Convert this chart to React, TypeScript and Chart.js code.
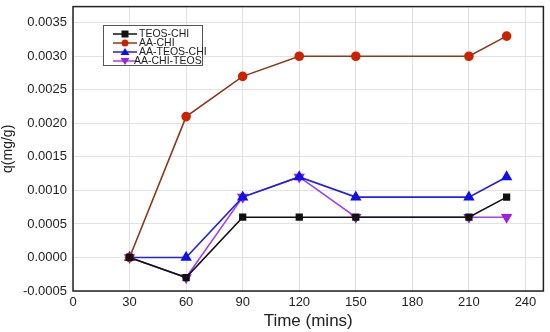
import React, { useEffect, useRef } from "react";
import { Chart, registerables } from "chart.js";

Chart.register(...registerables);

const times = [30, 60, 90, 120, 150, 210, 230];
const teosChi = [0, -0.0003, 0.0006, 0.0006, 0.0006, 0.0006, 0.0009];
const aaChi = [0, 0.0021, 0.0027, 0.003, 0.003, 0.003, 0.0033];
const aaTeosChi = [0, 0, 0.0009, 0.0012, 0.0009, 0.0009, 0.0012];
const aaChiTeos = [0, -0.0003, 0.0009, 0.0012, 0.0006, 0.0006, 0.0006];

const xTicks = [0, 30, 60, 90, 120, 150, 180, 210, 240];
const yTicks = [-0.0005, 0, 0.0005, 0.001, 0.0015, 0.002, 0.0025, 0.003, 0.0035];

const seriesNames = ["TEOS-CHI", "AA-CHI", "AA-TEOS-CHI", "AA-CHI-TEOS"];
const FONT = "'Liberation Sans', Arial, Helvetica, sans-serif";

const toPts = (vals: number[]) => vals.map((v, i) => ({ x: times[i], y: v }));

export default function App() {
  const ref = useRef<HTMLCanvasElement | null>(null);
  useEffect(() => {
    document.body.style.margin = "0";
    const canvas = ref.current!;
    const styles = [
      { line: "#111111", fill: "#111111", pt: "rect", rot: 0, r: 4 },
      { line: "#8b3a1a", fill: "#cc2200", pt: "circle", rot: 0, r: 4 },
      { line: "#2020e8", fill: "#1010ee", pt: "triangle", rot: 0, r: 5 },
      { line: "#a040f0", fill: "#a020e0", pt: "triangle", rot: 180, r: 5 },
    ];
    const data = [teosChi, aaChi, aaTeosChi, aaChiTeos];

    const boxPlugin = {
      id: "box",
      afterDraw(chart: any) {
        const { ctx, chartArea: a } = chart;
        ctx.save();
        ctx.strokeStyle = "#222";
        ctx.lineWidth = 1.5;
        ctx.strokeRect(a.left, a.top, a.right - a.left, a.bottom - a.top);
        // legend
        const lx = 103, ly = 25, lw = 99, lh = 40;
        ctx.fillStyle = "#fff";
        ctx.fillRect(lx, ly, lw, lh);
        ctx.strokeStyle = "#555";
        ctx.lineWidth = 1;
        ctx.strokeRect(lx + 0.5, ly + 0.5, lw, lh);
        ctx.font = `10.5px ${FONT}`;
        ctx.textBaseline = "middle";
        seriesNames.forEach((name, i) => {
          const y = ly + 9 + i * 9;
          const s = styles[i];
          ctx.strokeStyle = s.line;
          ctx.lineWidth = 1.5;
          ctx.beginPath();
          ctx.moveTo(113, y);
          ctx.lineTo(137, y);
          ctx.stroke();
          ctx.fillStyle = s.fill;
          const cx = 125;
          if (s.pt === "rect") ctx.fillRect(cx - 3.5, y - 3.5, 7, 7);
          else if (s.pt === "circle") {
            ctx.beginPath();
            ctx.arc(cx, y, 3.5, 0, Math.PI * 2);
            ctx.fill();
          } else {
            ctx.beginPath();
            const d = s.rot ? -1 : 1;
            ctx.moveTo(cx, y - 4 * d);
            ctx.lineTo(cx - 4.5, y + 3 * d);
            ctx.lineTo(cx + 4.5, y + 3 * d);
            ctx.closePath();
            ctx.fill();
          }
          ctx.fillStyle = "#222";
          ctx.fillText(name, i === 3 ? 134 : 139, y);
        });
        ctx.restore();
      },
    };

    const chart = new Chart(canvas, {
      type: "line",
      data: {
        datasets: seriesNames.map((name, i) => ({
          label: name,
          data: toPts(data[i]),
          borderColor: styles[i].line,
          backgroundColor: styles[i].fill,
          pointBackgroundColor: styles[i].fill,
          pointBorderColor: styles[i].fill,
          pointStyle: styles[i].pt as any,
          rotation: styles[i].rot,
          pointRadius: styles[i].r,
          borderWidth: 1.6,
          tension: 0,
          fill: false,
        })),
      },
      options: {
        responsive: false,
        animation: false,
        layout: { padding: { top: 4, right: 4, left: 0, bottom: 0 } },
        plugins: { legend: { display: false }, tooltip: { enabled: false } },
        scales: {
          x: {
            type: "linear",
            min: 0,
            max: 249.5,
            afterBuildTicks: (s: any) => {
              s.ticks = xTicks.map((v) => ({ value: v }));
            },
            afterFit: (s: any) => {
              s.height = 41;
              s.paddingRight = 0;
              s.paddingLeft = 0;
            },
            ticks: { stepSize: 30, color: "#222", font: { size: 13, family: FONT }, padding: 4 },
            grid: { color: "#e2e2e2", drawTicks: false },
            border: { display: false },
            title: {
              display: true,
              text: "Time (mins)",
              color: "#222",
              font: { size: 17, family: FONT },
              padding: { top: 0, bottom: 0 },
            },
          },
          y: {
            min: -0.0005,
            max: 0.00374,
            afterBuildTicks: (s: any) => {
              s.ticks = yTicks.map((v) => ({ value: v }));
            },
            afterFit: (s: any) => {
              s.width = 73;
              s.paddingTop = 0;
              s.paddingBottom = 0;
            },
            ticks: {
              color: "#222",
              font: { size: 13, family: FONT },
              padding: 6,
              callback: (v: any) => Number(v).toFixed(4),
            },
            grid: { color: "#e2e2e2", drawTicks: false },
            border: { display: false },
            title: {
              display: true,
              text: "q(mg/g)",
              color: "#222",
              font: { size: 14, family: FONT },
              padding: { top: 0, bottom: 0 },
            },
          },
        },
      },
      plugins: [boxPlugin],
    });
    return () => chart.destroy();
  }, []);
  return (
    <div style={{ position: "fixed", left: 0, top: 0, width: 550, height: 332, background: "#fff" }}>
      <canvas ref={ref} width={550} height={332} />
    </div>
  );
}
